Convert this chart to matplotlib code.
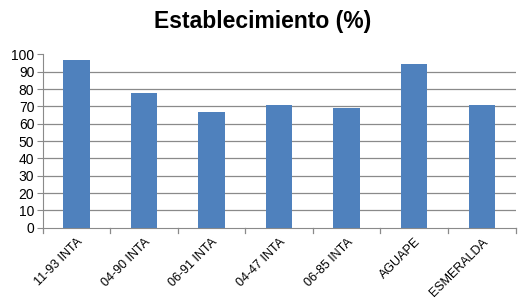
import matplotlib
matplotlib.use("Agg")
import matplotlib.pyplot as plt

categories = ["11-93 INTA", "04-90 INTA", "06-91 INTA", "04-47 INTA", "06-85 INTA", "AGUAPE", "ESMERALDA"]
values = [96.5, 78, 66.5, 71, 69, 94.5, 71]
yticks = [0, 10, 20, 30, 40, 50, 60, 70, 80, 90, 100]

plt.rcParams['font.family'] = ['Liberation Sans', 'DejaVu Sans']

fig = plt.figure(figsize=(5.25, 3.05), dpi=100)
ax = fig.add_axes([0.0813, 0.2534, 0.9007, 0.5682])

x = list(range(len(categories)))
ax.bar(x, values, width=0.39, color='#4F81BD', zorder=3)

ax.set_xlim(-0.5, len(categories) - 0.5)
ax.set_ylim(0, 100)
ax.set_yticks(yticks)
ax.set_yticklabels([str(t) for t in yticks], fontsize=10)
for t in yticks[1:-1]:
    ax.axhline(t, color='#8a8a8a', lw=0.9, zorder=1)

ax.set_xticks(x)
ax.set_xticklabels(categories, rotation=45, ha='right', rotation_mode='anchor', fontsize=9)
ax.tick_params(axis='x', length=0, pad=6)
for b in range(len(categories) + 1):
    ax.plot([b - 0.5, b - 0.5], [0, -3], color='#8a8a8a', lw=0.9, clip_on=False, zorder=2)
ax.tick_params(axis='y', length=4, color='#8a8a8a', pad=2)

for s in ['top', 'right']:
    ax.spines[s].set_visible(False)
ax.spines['left'].set_color('#8a8a8a')
ax.spines['bottom'].set_color('#8a8a8a')

fig.text(0.5, 0.928, "Establecimiento (%)", ha='center', va='center', fontsize=16.5, fontweight='bold')

fig.savefig("out.png", dpi=100)
